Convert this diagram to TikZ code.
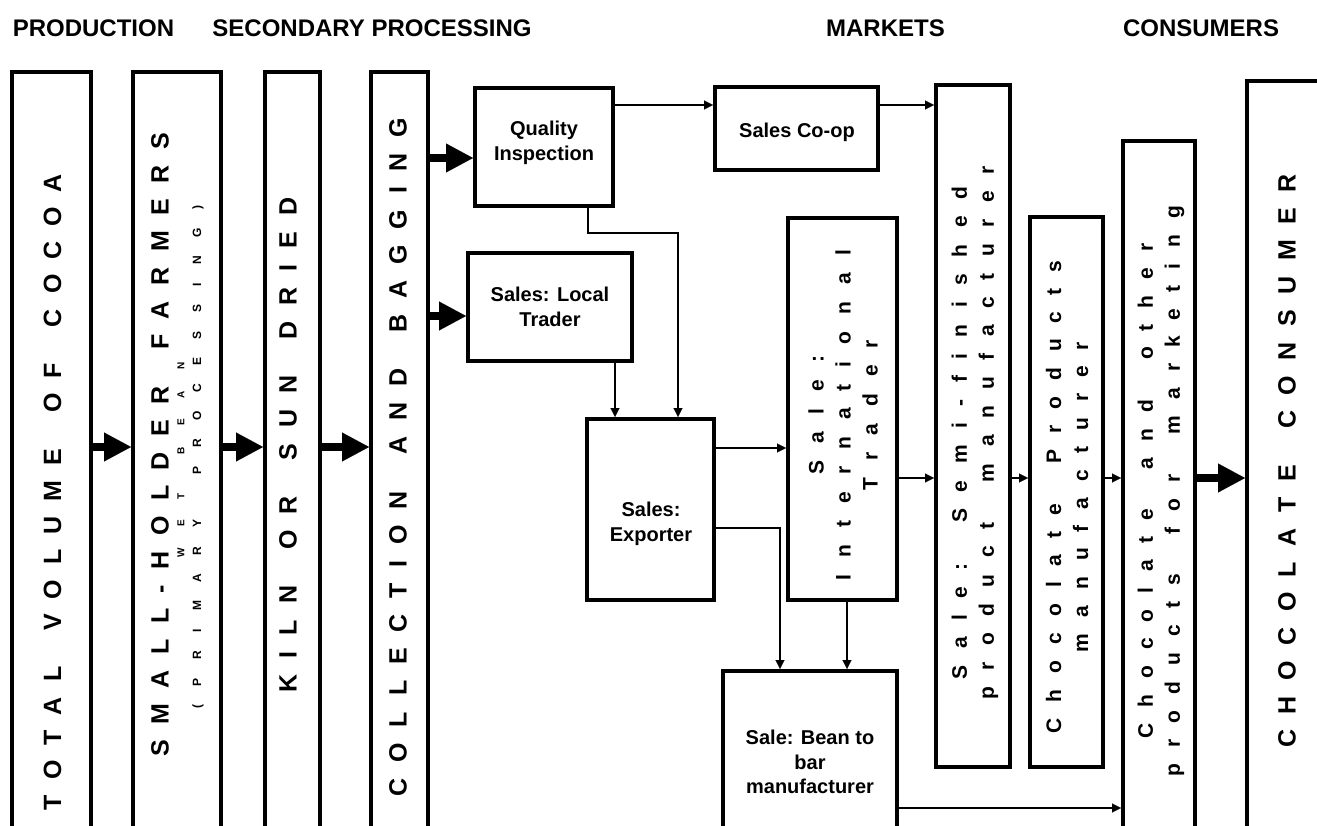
\documentclass[tikz,border=0pt]{standalone}
\usepackage{fontspec}
\setmainfont{Liberation Sans}
\usetikzlibrary{arrows.meta}
\newdimen\lsk \newdimen\wsk
\def\lsp#1{\lspA#1\relax\kern-\lsk}
\def\lspA#1{\ifx#1\relax\else\lspB#1\expandafter\lspA\fi}
\def\lspB#1{\ifx#1|\kern\wsk\else#1\kern\lsk\fi}
\tikzset{
 box/.style={draw, line width=4pt, inner sep=0pt},
 bigarrow/.style={line width=8pt, -{Triangle[length=27pt,width=29pt,line width=0.1pt]}},
 conn/.style={line width=2.6pt, -{Triangle[length=9pt,width=9pt,line width=0.1pt]}},
 thinconn/.style={line width=1.6pt, -{Triangle[length=9pt,width=9pt,line width=0.1pt]}},
 hdr/.style={font=\fontsize{24}{28}\selectfont\bfseries, inner sep=0pt},
 lbl/.style={font=\fontsize{20}{24.5}\selectfont\bfseries, align=center, inner sep=0pt},
 ls/.code 2 args={\global\lsk=#1\global\wsk=#2},
 vbig/.style={rotate=90, font=\fontsize{25}{30}\selectfont\bfseries, inner sep=0pt},
 vmed/.style={rotate=90, font=\fontsize{21}{27}\selectfont\bfseries, align=center, inner sep=0pt},
}
\begin{document}
\begin{tikzpicture}[x=1pt,y=-1pt]
\useasboundingbox (0,0) rectangle (1317,826);
\clip (0,0) rectangle (1317,826);
% headers
\node[hdr, anchor=base] (h1) at (93.5,37) {PRODUCTION};
\node[hdr, anchor=base] (h2) at (372,37) {SECONDARY PROCESSING};
\node[hdr, anchor=base] (h3) at (885.5,37) {MARKETS};
\node[hdr, anchor=base] (h4) at (1201,37) {CONSUMERS};
% boxes
\node[box, minimum width=79pt, minimum height=830pt] (tv) at (51.5,487) {};
\node[box, minimum width=88pt, minimum height=830pt] (sh) at (177,487) {};
\node[box, minimum width=55pt, minimum height=830pt] (kiln) at (292.5,487) {};
\node[box, minimum width=57pt, minimum height=830pt] (coll) at (399.5,487) {};
\node[box, minimum width=138pt, minimum height=118pt] (qi) at (544,147) {};
\node[box, minimum width=163pt, minimum height=83pt] (coop) at (796.5,128.5) {};
\node[box, minimum width=164pt, minimum height=108pt] (lt) at (550,307) {};
\node[box, minimum width=127pt, minimum height=181pt] (exp) at (650.5,509.5) {};
\node[box, minimum width=109pt, minimum height=382pt] (intl) at (842.5,409) {};
\node[box, minimum width=174pt, minimum height=300pt] (btb) at (810,821) {};
\node[box, minimum width=74pt, minimum height=682pt] (semi) at (973,426) {};
\node[box, minimum width=73pt, minimum height=550pt] (cp) at (1066.5,492) {};
\node[box, minimum width=72pt, minimum height=800pt] (cao) at (1159,541) {};
\node[box, minimum width=200pt, minimum height=800pt] (cons) at (1347,481) {};
% helper coordinates
\coordinate (rA) at (0,447);
\coordinate (rQ) at (0,158);
\coordinate (rL) at (0,316);
\coordinate (rT) at (0,105);
\coordinate (rE) at (0,448);
\coordinate (rS) at (0,478);
\coordinate (rB) at (0,808);
\coordinate (cL) at (615,0);
\coordinate (cI) at (847,0);
\coordinate (qa) at (588,233);
\coordinate (qb) at (678,233);
\coordinate (ea) at (780,528);
% connectors
\draw[bigarrow] (tv.east |- rA) -- (sh.west |- rA);
\draw[bigarrow] (sh.east |- rA) -- (kiln.west |- rA);
\draw[bigarrow] (kiln.east |- rA) -- (coll.west |- rA);
\draw[bigarrow] (coll.east |- rQ) -- (qi.west |- rQ);
\draw[bigarrow] (coll.east |- rL) -- (lt.west |- rL);
\draw[conn] (qi.east |- rT) -- (coop.west |- rT);
\draw[conn] (coop.east |- rT) -- (semi.west |- rT);
\draw[thinconn] (qi.south -| qa) -- (qa) -- (qb) -- (exp.north -| qb);
\draw[conn] (lt.south -| cL) -- (exp.north -| cL);
\draw[conn] (exp.east |- rE) -- (intl.west |- rE);
\draw[thinconn] (exp.east |- ea) -- (ea) -- (btb.north -| ea);
\draw[conn] (intl.south -| cI) -- (btb.north -| cI);
\draw[conn] (intl.east |- rS) -- (semi.west |- rS);
\draw[conn] (semi.east |- rS) -- (cp.west |- rS);
\draw[conn] (cp.east |- rS) -- (cao.west |- rS);
\draw[bigarrow] (cao.east |- rS) -- (cons.west |- rS);
\draw[conn] (btb.east |- rB) -- (cao.west |- rB);
% vertical texts
\node[vbig, ls={15pt}{21pt}] (tvt) at (52.5,492) {\lsp{TOTAL|VOLUME|OF|COCOA}};
\node[vbig, ls={15.5pt}{21pt}] (sht) at (160,445) {\lsp{SMALL-HOLDER|FARMERS}};
\node[rotate=90, font=\fontsize{12}{14}\selectfont\bfseries, inner sep=0pt, ls={18.5pt}{27pt}] (shp) at (198,457) {\lsp{(PRIMARY|PROCESSING)}};
\node[rotate=90, font=\fontsize{10}{12}\selectfont\bfseries, inner sep=0pt, ls={21pt}{18pt}] (shw) at (181,460) {\lsp{WET|BEAN}};
\node[vbig, ls={16pt}{20pt}] (kt) at (288,445) {\lsp{KILN|OR|SUN|DRIED}};
\node[vbig, ls={15.8pt}{21pt}] (ct) at (398,457) {\lsp{COLLECTION|AND|BAGGING}};
\node[vmed, ls={17pt}{24pt}] (it) at (843,415) {\lsp{Sale:}\\\lsp{International}\\\lsp{Trader}};
\node[vmed, ls={16.5pt}{24pt}] (st) at (975,433) {\lsp{Sale:|Semi-finished}\\\lsp{product|manufacturer}};
\node[vmed, ls={16pt}{24pt}] (cpt) at (1067,497) {\lsp{Chocolate|Products}\\\lsp{manufacturer}};
\node[vmed, ls={16pt}{24pt}] (caot) at (1161,491) {\lsp{Chocolate|and|other}\\\lsp{products|for|marketing}};
\node[vbig, ls={15.5pt}{21pt}] (const) at (1287,461) {\lsp{CHOCOLATE|CONSUMER}};
% horizontal labels
\node[lbl] (qit) at (544,143) {Quality\\Inspection};
\node[lbl] (coopt) at (797,132) {Sales Co-op};
\node[lbl] (ltt) at (550,307) {Sales: Local\\Trader};
\node[lbl] (expt) at (651,524) {Sales:\\Exporter};
\node[lbl] (btbt) at (810,762) {Sale: Bean to\\bar\\manufacturer};
\end{tikzpicture}
\end{document}
